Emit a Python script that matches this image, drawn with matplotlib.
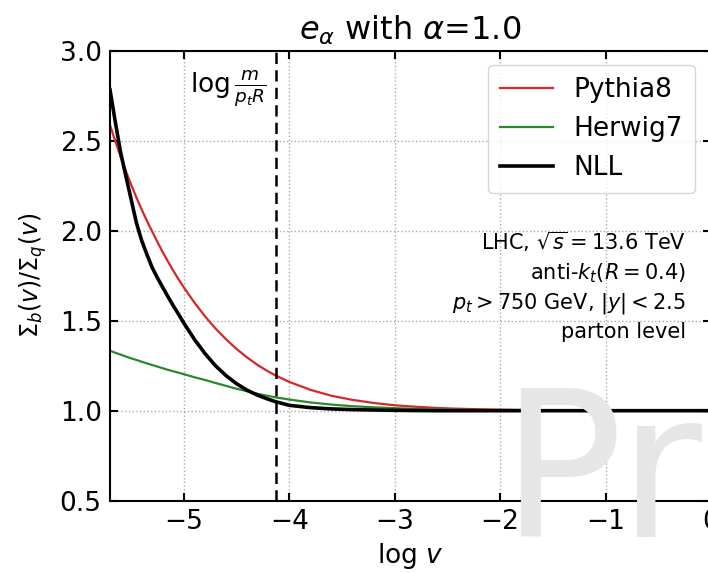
import numpy as np
import matplotlib
matplotlib.use("Agg")
import matplotlib.pyplot as plt

# log v sample points
log_v = [-5.70, -5.65, -5.60, -5.55, -5.50, -5.45, -5.40, -5.35, -5.30,
         -5.25, -5.20, -5.15, -5.10, -5.05, -5.00, -4.90, -4.80, -4.70,
         -4.60, -4.50, -4.40, -4.30, -4.20, -4.13, -4.00, -3.80, -3.60,
         -3.40, -3.20, -3.00, -2.80, -2.60, -2.40, -2.20, -2.00, -1.50,
         -1.00, -0.50, 0.00]

# Sigma_b / Sigma_q ratios
pythia8 = [2.587, 2.498, 2.412, 2.332, 2.257, 2.185, 2.118, 2.055, 1.996,
           1.937, 1.881, 1.828, 1.778, 1.730, 1.685, 1.601, 1.525, 1.457,
           1.397, 1.343, 1.296, 1.254, 1.218, 1.196, 1.160, 1.116, 1.083,
           1.060, 1.043, 1.030, 1.022, 1.015, 1.011, 1.008, 1.006, 1.002,
           1.001, 1.0, 1.0]
herwig7 = [1.333, 1.322, 1.312, 1.301, 1.291, 1.282, 1.272, 1.263, 1.254,
           1.245, 1.236, 1.227, 1.219, 1.211, 1.203, 1.186, 1.171, 1.154,
           1.138, 1.122, 1.108, 1.094, 1.082, 1.074, 1.062, 1.046, 1.034,
           1.025, 1.019, 1.014, 1.010, 1.007, 1.005, 1.003, 1.002, 1.001,
           1.0, 1.0, 1.0]
nll = [2.783, 2.605, 2.437, 2.305, 2.175, 2.045, 1.946, 1.868, 1.795,
       1.738, 1.685, 1.633, 1.583, 1.536, 1.487, 1.397, 1.318, 1.250,
       1.195, 1.150, 1.114, 1.086, 1.064, 1.050, 1.030, 1.017, 1.010,
       1.006, 1.004, 1.002, 1.001, 1.0, 1.0, 1.0, 1.0, 1.0,
       1.0, 1.0, 1.0]

mass_scale = -4.13   # log(m / (p_t R))

x_ticks = [-5, -4, -3, -2, -1, 0]
y_ticks = [0.5, 1.0, 1.5, 2.0, 2.5, 3.0]

W, H = 708, 573
fig = plt.figure(figsize=(W / 100, H / 100), dpi=100)
ax = fig.add_axes([110 / W, 72.3 / H, 601 / W, 450 / H])

ax.plot(log_v, pythia8, color="#d62728", lw=1.6, label="Pythia8")
ax.plot(log_v, herwig7, color="#2a8a2a", lw=1.6, label="Herwig7")
ax.plot(log_v, nll, color="black", lw=2.6, label="NLL")
ax.axvline(mass_scale, color="black", lw=1.8, ls=(0, (4.5, 2.5)))

ax.set_xlim(-5.7, 0.0)
ax.set_ylim(0.5, 3.0)
ax.set_xticks(x_ticks)
ax.set_yticks(y_ticks)
ax.grid(True, ls=":", color="#aaaaaa", lw=1.0)
ax.tick_params(direction="in", top=True, right=True, length=6, width=1.5,
               labelsize=19, pad=6)
for s in ax.spines.values():
    s.set_linewidth(1.5)

ax.set_xlabel(r"$\log\,v$", fontsize=19, labelpad=4)
ax.set_ylabel(r"$\Sigma_b(v)/\Sigma_q(v)$", fontsize=17, labelpad=8)
ax.set_title(r"$e_\alpha$ with $\alpha$=1.0", fontsize=23, pad=8)

ax.text(-4.21, 2.79, r"$\log\frac{m}{p_t R}$", fontsize=19,
        ha="right", va="center")

leg = ax.legend(loc="upper left", bbox_to_anchor=(378 / 601, (500.7 - 65) / 450),
                borderaxespad=0.0, fontsize=19, frameon=True, fancybox=True,
                framealpha=0.8, edgecolor="#cccccc", handlelength=2.0,
                borderpad=0.45, labelspacing=0.5)

info = [r"LHC, $\sqrt{s}=13.6$ TeV",
        r"anti-$k_t(R=0.4)$",
        r"$p_t>750$ GeV, $|y|<2.5$",
        "parton level"]
for line, yb in zip(info, [250, 279, 308, 338]):
    fig.text(686 / W, 1 - yb / H, line, fontsize=15, ha="right",
             va="baseline")

fig.text(500 / W, 36.3 / H, "Preliminary", fontsize=146, color="#e6e6e6",
         ha="left", va="baseline", zorder=10)

fig.savefig("out.png", dpi=100)
